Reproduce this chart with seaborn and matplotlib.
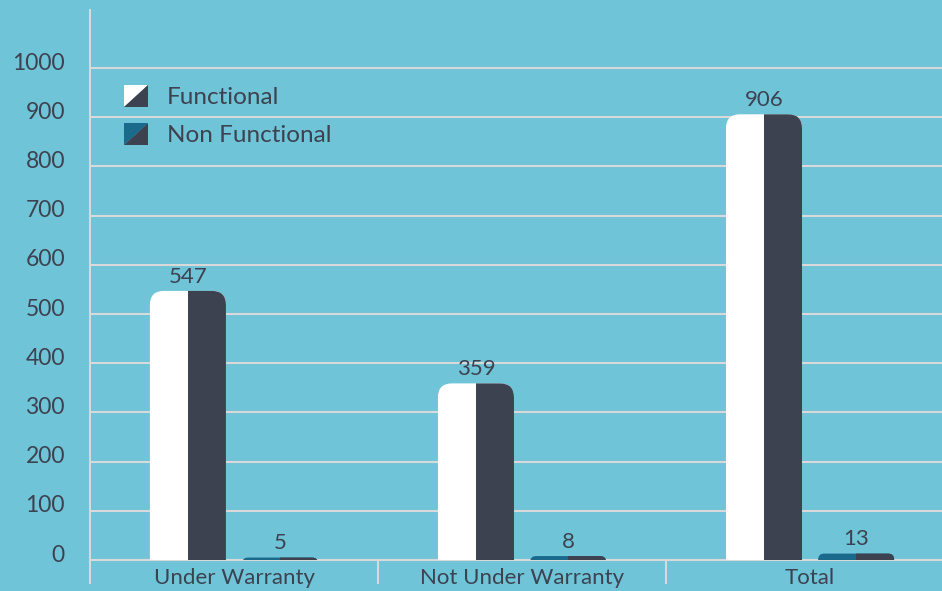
import matplotlib
matplotlib.use('Agg')
import matplotlib.pyplot as plt
from matplotlib.patches import FancyBboxPatch, Rectangle, Polygon, Patch
from matplotlib.legend_handler import HandlerBase
from matplotlib.transforms import ScaledTranslation
import seaborn as sns
import pandas as pd

categories = ["Under Warranty", "Not Under Warranty", "Total"]
series = ["Functional", "Non Functional"]
functional = [547, 359, 906]
non_functional = [5, 8, 13]
yticks = list(range(0, 1001, 100))

BG = "#6fc4d7"
DARK = "#3d4250"
TEAL = "#1a6a8c"
GRID = "#d9d9d9"

sns.set_style("white", rc={"axes.facecolor": BG, "figure.facecolor": BG})
plt.rcParams['font.family'] = ['Lato', 'DejaVu Sans']

df = pd.DataFrame({
    "category": categories * 2,
    "status": [series[0]] * 3 + [series[1]] * 3,
    "count": functional + non_functional,
})


class SplitHandler(HandlerBase):
    # legend square split on the diagonal: colour c1 top-left, c2 bottom-right
    def __init__(self, c1, c2):
        super().__init__()
        self.c1, self.c2 = c1, c2

    def create_artists(self, legend, orig_handle, xdescent, ydescent,
                       width, height, fontsize, trans):
        x0, y0 = -xdescent, -ydescent
        a = Polygon([[x0, y0], [x0, y0 + height], [x0 + width, y0 + height]],
                    closed=True, fc=self.c1, ec='none', transform=trans)
        b = Polygon([[x0, y0], [x0 + width, y0], [x0 + width, y0 + height]],
                    closed=True, fc=self.c2, ec='none', transform=trans)
        return [a, b]


W, H = 942, 591
fig = plt.figure(figsize=(W / 100, H / 100), dpi=100)
ax_l, ax_b, ax_w, ax_h = 90, 31, 852, 550
ax = fig.add_axes([ax_l / W, ax_b / H, ax_w / W, ax_h / H])

sns.barplot(data=df, x="category", y="count", hue="status", order=categories,
            hue_order=series, palette={series[0]: "white", series[1]: TEAL},
            width=0.64, gap=0.175, saturation=1, errorbar=None, legend=False, ax=ax)

xlim = (-0.5, 2.458)
ylim = (0, 1118)
ax.set_xlim(*xlim)
ax.set_ylim(*ylim)

for cont in ax.containers:
    ax.bar_label(cont, padding=3, fontsize=16, color=DARK)

# rounded tops, right half dark
xr = xlim[1] - xlim[0]
yr = ylim[1] - ylim[0]
aspect = (yr / ax_h) / (xr / ax_w)
left_colors = {0: "white", 1: TEAL}
for ci, cont in enumerate(ax.containers):
    for bar in list(cont.patches):
        x0, w, h = bar.get_x(), bar.get_width(), bar.get_height()
        bar.remove()
        r_px = 14 if h > 100 else 6
        r = r_px * xr / ax_w
        rv = r * aspect
        style = f"round,pad=0,rounding_size={r}"
        lp = FancyBboxPatch((x0, -2 * rv), w, h + 2 * rv, boxstyle=style,
                            mutation_aspect=aspect, fc=left_colors[ci], ec='none', zorder=3)
        ax.add_patch(lp)
        rp = FancyBboxPatch((x0, -2 * rv), w, h + 2 * rv, boxstyle=style,
                            mutation_aspect=aspect, fc=DARK, ec='none', zorder=3)
        ax.add_patch(rp)
        rp.set_clip_path(Rectangle((x0 + w / 2, 0), w / 2, yr, transform=ax.transData))

ax.set_yticks(yticks)
ax.yaxis.grid(True, color=GRID, lw=1.5)
ax.set_axisbelow(True)
for s in ["top", "right"]:
    ax.spines[s].set_visible(False)
for s in ["left", "bottom"]:
    ax.spines[s].set_color(GRID)
    ax.spines[s].set_linewidth(1.5)

ax.set_xlabel("")
ax.set_ylabel("")
ax.tick_params(axis='y', length=0, pad=18, labelsize=16.5, labelcolor=DARK)
ax.tick_params(axis='x', which='major', length=0, pad=6, labelsize=16, labelcolor=DARK)
# category separators below the axis
ax.set_xticks([-0.5, 0.5, 1.5], minor=True)
ax.tick_params(axis='x', which='minor', bottom=True, length=17, width=1.5,
               color=GRID, direction='out')

off = ScaledTranslation(0, 0.07, fig.dpi_scale_trans)
for lab in ax.get_yticklabels():
    lab.set_transform(lab.get_transform() + off)

h1 = Patch(label=series[0])
h2 = Patch(label=series[1])
leg = ax.legend(handles=[h1, h2], loc="upper left",
                bbox_to_anchor=(124 / W, (H - 85) / H), bbox_transform=fig.transFigure,
                handler_map={h1: SplitHandler("white", DARK), h2: SplitHandler(TEAL, DARK)},
                frameon=False, fontsize=17.5, labelcolor=DARK, handlelength=1.0,
                handleheight=1.0, handletextpad=0.75, labelspacing=0.62,
                borderpad=0, borderaxespad=0)

fig.savefig("out.png", dpi=100, facecolor=BG)
